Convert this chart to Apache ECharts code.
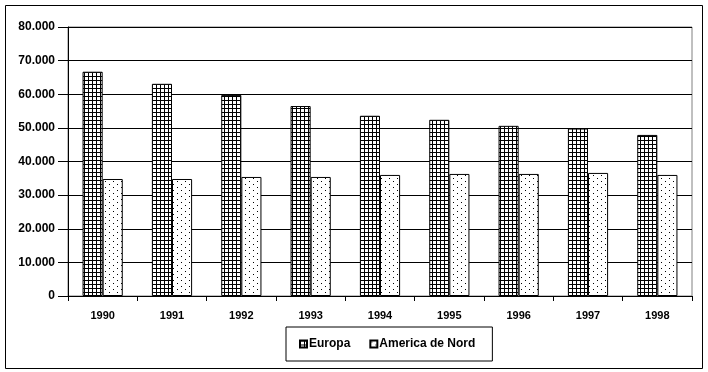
<!DOCTYPE html>
<html><head><meta charset="utf-8">
<script src="https://cdn.jsdelivr.net/npm/echarts@6/dist/echarts.min.js"></script>
<style>html,body{margin:0;padding:0;background:#fff}#c{width:708px;height:372px}</style>
</head><body><div id="c"></div>
<script>
const categories = ['1990','1991','1992','1993','1994','1995','1996','1997','1998'];
const europa = [66700, 63100, 59800, 56500, 53600, 52400, 50600, 49800, 47900];
const americaNord = [34800, 34800, 35400, 35400, 36000, 36300, 36300, 36600, 36000];
const seriesNames = ['Europa', 'America de Nord'];

function gridPattern(){
  const c = document.createElement('canvas'); c.width = 4; c.height = 4;
  const g = c.getContext('2d');
  g.fillStyle = '#fff'; g.fillRect(0,0,4,4);
  g.fillStyle = '#000'; g.fillRect(0,0,4,1); g.fillRect(0,0,1,4);
  return c;
}
function dotPattern(){
  const c = document.createElement('canvas'); c.width = 8; c.height = 6;
  const g = c.getContext('2d');
  g.fillStyle = '#fff'; g.fillRect(0,0,8,6);
  g.fillStyle = '#000'; g.fillRect(1,1,1,1); g.fillRect(5,4,1,1);
  return c;
}
const font = '"Liberation Sans", Arial, sans-serif';
const chart = echarts.init(document.getElementById('c'), null, {renderer:'canvas'});
chart.setOption({
  animation:false,
  backgroundColor:'#fff',
  graphic:[{type:'rect', shape:{x:5.5,y:5.5,width:697,height:363}, style:{fill:'none', stroke:'#000', lineWidth:1}, z:-1}],
  grid:{left:68, right:16, top:27, bottom:76, show:true, borderColor:'#808080', borderWidth:1},
  legend:{
    data: seriesNames, bottom:11, left:286,
    icon:'rect',
    borderColor:'#000', borderWidth:1, padding:[11,17,11,13],
    itemWidth:7, itemHeight:7, itemGap:19,
    textStyle:{fontFamily:font, fontWeight:'bold', fontSize:12, color:'#000', padding:[0,0,0,-3]}
  },
  xAxis:{
    type:'category', data:categories,
    axisLine:{lineStyle:{color:'#000'}},
    axisTick:{show:true, length:5, lineStyle:{color:'#000'}},
    axisLabel:{fontFamily:font, fontWeight:'bold', fontSize:11, color:'#000', margin:14}
  },
  yAxis:{
    type:'value', min:0, max:80000, interval:10000,
    axisLine:{show:true, lineStyle:{color:'#000'}},
    axisTick:{show:true, length:10, lineStyle:{color:'#000'}},
    splitLine:{lineStyle:{color:'#000'}},
    axisLabel:{fontFamily:font, fontWeight:'bold', fontSize:12, color:'#000', margin:13,
      formatter:v => v===0 ? '0' : (v/1000).toFixed(0)+'.000'}
  },
  series:[
    {name:seriesNames[0], type:'bar', data:europa, barGap:'0%', barCategoryGap:'42%',
      itemStyle:{color:{image:gridPattern(), repeat:'repeat'}, borderColor:'#000', borderWidth:1}},
    {name:seriesNames[1], type:'bar', data:americaNord,
      itemStyle:{color:{image:dotPattern(), repeat:'repeat'}, borderColor:'#000', borderWidth:1}}
  ]
});
</script></body></html>
